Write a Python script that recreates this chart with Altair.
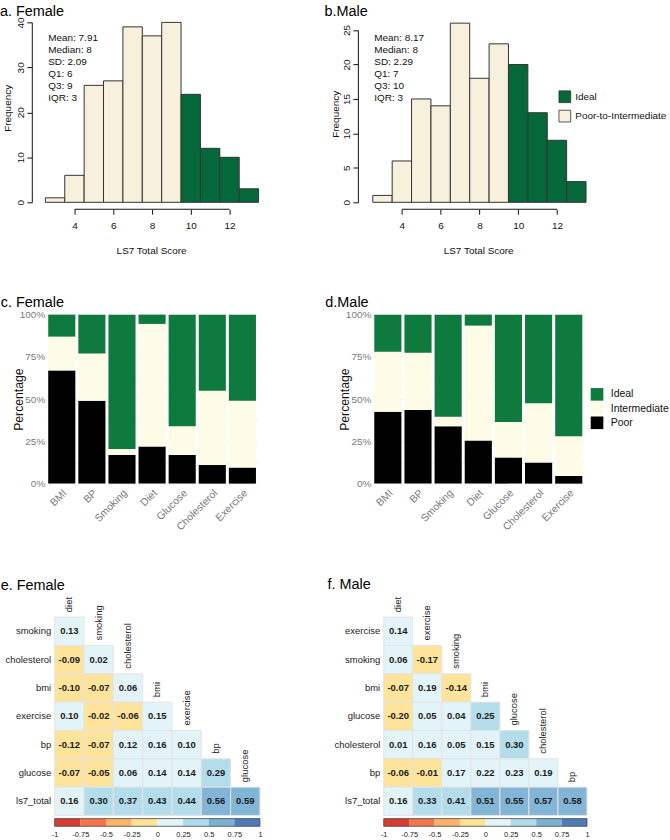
import altair as alt
import pandas as pd

FONT = "Liberation Sans"
INK = "#111111"
GREY = "#7A7A7A"

# ---------------- Life's Simple 7 total score histograms ----------------
scores = [3, 4, 5, 6, 7, 8, 9, 10, 11, 12, 13]
female_counts = [1, 6, 26, 27, 39, 37, 40, 24, 12, 10, 3]
male_counts = [1, 6, 15, 14, 26, 18, 23, 20, 13, 9, 3]
female_stats = ["Mean: 7.91", "Median: 8", "SD: 2.09", "Q1: 6", "Q3: 9", "IQR: 3"]
male_stats = ["Mean: 8.17", "Median: 8", "SD: 2.29", "Q1: 7", "Q3: 10", "IQR: 3"]
hist_x_ticks = [4, 6, 8, 10, 12]
female_y_ticks = [0, 10, 20, 30, 40]
male_y_ticks = [0, 5, 10, 15, 20, 25]
hist_groups = ["Ideal", "Poor-to-Intermediate"]
hist_colors = ["#05683A", "#F6F0DD"]
ideal_cutoff = 10

# ---------------- component status (percent of participants) ----------------
metrics = ["BMI", "BP", "Smoking", "Diet", "Glucose", "Cholesterol", "Exercise"]
levels = ["Ideal", "Intermediate", "Poor"]
level_colors = ["#0F7A3D", "#FEFCE6", "#000000"]
stack_order = ["Poor", "Intermediate", "Ideal"]
female_poor = [67, 49, 17, 22, 17, 11, 9.5]
female_inter = [20, 28, 3.5, 72.5, 17, 44, 39.5]
female_ideal = [13, 23, 79.5, 5.5, 66, 45, 51]
male_poor = [42.5, 43.5, 34, 25.5, 15.5, 12.5, 4.5]
male_inter = [35.5, 34, 5.5, 68, 21, 35, 23.5]
male_ideal = [22, 22.5, 60.5, 6.5, 63.5, 52.5, 72]
pct_ticks = [0, 12.5, 25, 37.5, 50, 62.5, 75, 87.5, 100]

# ---------------- correlation matrices (lower triangle) ----------------
female_cols = ["diet", "smoking", "cholesterol", "bmi", "exercise", "bp", "glucose"]
female_rows = ["smoking", "cholesterol", "bmi", "exercise", "bp", "glucose", "ls7_total"]
female_r = [
    [0.13],
    [-0.09, 0.02],
    [-0.10, -0.07, 0.06],
    [0.10, -0.02, -0.06, 0.15],
    [-0.12, -0.07, 0.12, 0.16, 0.10],
    [-0.07, -0.05, 0.06, 0.14, 0.14, 0.29],
    [0.16, 0.30, 0.37, 0.43, 0.44, 0.56, 0.59],
]
male_cols = ["diet", "exercise", "smoking", "bmi", "glucose", "cholesterol", "bp"]
male_rows = ["exercise", "smoking", "bmi", "glucose", "cholesterol", "bp", "ls7_total"]
male_r = [
    [0.14],
    [0.06, -0.17],
    [-0.07, 0.19, -0.14],
    [-0.20, 0.05, 0.04, 0.25],
    [0.01, 0.16, 0.05, 0.15, 0.30],
    [-0.06, -0.01, 0.17, 0.22, 0.23, 0.19],
    [0.16, 0.33, 0.41, 0.51, 0.55, 0.57, 0.58],
]
cbar_edges = [-1, -0.75, -0.5, -0.25, 0, 0.25, 0.5, 0.75, 1]
cbar_colors = ["#D73027", "#F46D43", "#FDAE61", "#FEE090",
               "#E0F3F8", "#ABD9E9", "#74ADD1", "#4575B4"]

ONE = pd.DataFrame({"k": [0]})

# Each row band: total height, and where its plot area starts/ends inside the band.
ROW1_H, HIST_BOTTOM = 280, 201
ROW2_H, STACK_TOP, STACK_BOTTOM = 280, 34, 204
ROW3_H, CORR_TOP, CORR_BOTTOM = 260, 58.3, 257.8
CBAR_H = 7.7


def spacer(w, h):
    return (
        alt.Chart(ONE)
        .mark_rect(opacity=0)
        .encode(x=alt.value(0), x2=alt.value(0), y=alt.value(0), y2=alt.value(0))
        .properties(width=w, height=h)
    )


def label(text, dx, dy, size=14.5):
    return (
        alt.Chart(ONE)
        .mark_text(align="left", baseline="alphabetic", fontSize=size, font=FONT, color="#000")
        .encode(x=alt.value(dx), y=alt.value(dy), text=alt.value(text))
    )


HIST_X_AXIS = alt.Axis(
    values=hist_x_ticks, offset=7, domain=False, grid=False,
    tickSize=5, tickColor=INK, labelPadding=6, labelFontSize=10,
    labelColor=INK, labelFlush=False, labelOverlap=False,
    title="LS7 Total Score", titleFontSize=10, titleFontWeight="normal",
    titleColor=INK, titleY=42, titleBaseline="middle",
)


def histogram(counts, y_ticks, stats, title, title_dx, width, x_domain, y_top,
              ytitle_x, ytitle_y, legend):
    df = pd.DataFrame({"score": scores, "count": counts})
    df["group"] = [hist_groups[0] if s >= ideal_cutoff else hist_groups[1] for s in scores]
    xs = alt.Scale(domain=x_domain, nice=False, zero=False)
    bars = (
        alt.Chart(df)
        .transform_calculate(lo="datum.score - 0.5", hi="datum.score + 0.5")
        .mark_bar(stroke="#333333", strokeWidth=1)
        .encode(
            x=alt.X("lo:Q", scale=xs, axis=HIST_X_AXIS),
            x2="hi:Q",
            y=alt.Y(
                "count:Q",
                scale=alt.Scale(domain=[0, y_ticks[-1]], range=[HIST_BOTTOM, y_top], nice=False),
                axis=alt.Axis(
                    values=y_ticks, grid=False, domainColor=INK, tickColor=INK,
                    tickSize=5, labelAngle=270, labelAlign="center",
                    labelBaseline="middle", labelPadding=6.5, labelFontSize=10,
                    labelColor=INK, labelOverlap=False, labelFlush=False,
                    title="Frequency", titleFontSize=10, titleFontWeight="normal",
                    titleColor=INK, titleAngle=270, titleAlign="center",
                    titleBaseline="middle", titleX=ytitle_x, titleY=ytitle_y,
                ),
            ),
            y2=alt.datum(0),
            color=alt.Color(
                "group:N",
                scale=alt.Scale(domain=hist_groups, range=hist_colors),
                legend=legend,
            ),
        )
    )
    # R-style x axis line, running from the first to the last tick only
    axis_line = (
        alt.Chart(pd.DataFrame({"lo": [hist_x_ticks[0]], "hi": [hist_x_ticks[-1]]}))
        .mark_rule(color=INK, strokeWidth=1)
        .encode(x=alt.X("lo:Q", scale=xs, axis=HIST_X_AXIS), x2="hi:Q",
                y=alt.value(HIST_BOTTOM + 7))
    )
    stats_text = (
        alt.Chart(ONE)
        .mark_text(align="left", baseline="alphabetic", fontSize=10, lineHeight=12.2,
                   font=FONT, color=INK)
        .encode(x=alt.value(16.5), y=alt.value(38.6), text=alt.value(stats))
    )
    return alt.layer(bars, axis_line, stats_text, label(title, title_dx, 13.3)).properties(
        width=width, height=HIST_BOTTOM
    )


def stacked(poor, inter, ideal, title, title_dx, width, legend):
    recs = []
    for i, m in enumerate(metrics):
        for lvl, vals in (("Poor", poor), ("Intermediate", inter), ("Ideal", ideal)):
            recs.append({"metric": m, "level": lvl, "pct": vals[i]})
    df = pd.DataFrame(recs)
    bars = (
        alt.Chart(df)
        .transform_calculate(rank=f"indexof({stack_order}, datum.level)")
        .mark_bar()
        .encode(
            x=alt.X(
                "metric:N",
                scale=alt.Scale(domain=metrics, paddingInner=0.1, paddingOuter=0.05),
                axis=alt.Axis(
                    labelAngle=315, labelAlign="right", labelBaseline="top",
                    domain=False, ticks=False, tickSize=0, labelPadding=4,
                    labelFontSize=10.5, labelColor=GREY, grid=False, title=None,
                ),
            ),
            y=alt.Y(
                "pct:Q",
                stack="zero",
                scale=alt.Scale(domain=[0, 100], range=[STACK_BOTTOM, STACK_TOP], nice=False),
                axis=alt.Axis(
                    values=pct_ticks,
                    labelExpr="datum.value % 25 === 0 ? datum.value + '%' : ''",
                    grid=True, gridColor="#EDEDED", gridWidth=0.8, domain=False,
                    ticks=False, tickSize=0, labelPadding=2, labelFontSize=10,
                    labelColor=GREY, labelOverlap=False, labelFlush=False,
                    title="Percentage", titleFontSize=12.3, titleFontWeight="normal",
                    titleColor=INK, titleAngle=270, titleAlign="center",
                    titleBaseline="middle", titleX=-28.7, titleY=119,
                ),
            ),
            color=alt.Color(
                "level:N", scale=alt.Scale(domain=levels, range=level_colors), legend=legend
            ),
            order=alt.Order("rank:Q", sort="ascending"),
        )
    )
    return alt.layer(bars, label(title, title_dx, 26.5)).properties(
        width=width, height=STACK_BOTTOM
    )


def corr(rows, cols, vals, title, title_dx, title_dy, width):
    recs = []
    for i, r in enumerate(rows):
        for j in range(i + 1):
            v = vals[i][j]
            recs.append({"row": r, "col": cols[j], "r": v, "txt": f"{v:.2f}"})
    df = pd.DataFrame(recs)
    xs = alt.Scale(domain=cols, paddingInner=0, paddingOuter=0)
    ys = alt.Scale(domain=rows, range=[CORR_TOP, CORR_BOTTOM], paddingInner=0, paddingOuter=0)
    row_axis = alt.Axis(domain=False, ticks=False, tickSize=0, labelPadding=4,
                        labelFontSize=9.5, labelColor="#222", title=None, grid=False)
    cells = (
        alt.Chart(df)
        .mark_rect(stroke="#E4E4E4", strokeWidth=1, fillOpacity=0.9)
        .encode(
            x=alt.X("col:N", scale=xs, axis=None),
            y=alt.Y("row:N", scale=ys, axis=row_axis),
            color=alt.Color(
                "r:Q",
                scale=alt.Scale(type="threshold", domain=cbar_edges[1:-1], range=cbar_colors),
                legend=None,
            ),
        )
    )
    values = (
        alt.Chart(df)
        .mark_text(fontSize=9.5, fontWeight="bold", font=FONT, color="#1A1A1A")
        .encode(x=alt.X("col:N", scale=xs, axis=None),
                y=alt.Y("row:N", scale=ys, axis=row_axis), text="txt:N")
    )
    heads = (
        alt.Chart(pd.DataFrame({"col": cols, "row": rows}))
        .mark_text(angle=270, align="left", baseline="middle", dx=5, fontSize=9.5,
                   font=FONT, color="#222")
        .encode(
            x=alt.X("col:N", scale=xs, axis=None),
            y=alt.Y("row:N", scale=ys, axis=row_axis, bandPosition=0),
            text="col:N",
        )
    )
    return alt.layer(cells, values, heads, label(title, title_dx, title_dy)).properties(
        width=width, height=CORR_BOTTOM
    )


CBAR_AXIS = alt.Axis(
    values=cbar_edges,
    labelExpr="datum.value < 0 ? '-' + toString(-datum.value) : toString(datum.value)",
    domain=False, ticks=False, tickSize=0, labelPadding=4,
    labelFontSize=7.5, labelColor="#222", labelFlush=False,
    labelOverlap=False, grid=False, title=None,
)


def colorbar(width):
    seg_df = pd.DataFrame({"lo": cbar_edges[:-1], "hi": cbar_edges[1:], "fill": cbar_colors})
    xs = alt.Scale(domain=[cbar_edges[0], cbar_edges[-1]], nice=False, zero=False)
    segs = (
        alt.Chart(seg_df)
        .mark_rect(opacity=0.95)
        .encode(
            x=alt.X("lo:Q", scale=xs, axis=CBAR_AXIS),
            x2="hi:Q",
            y=alt.value(0),
            y2=alt.value(CBAR_H),
            color=alt.Color("fill:N", scale=None),
        )
    )
    frame = (
        alt.Chart(pd.DataFrame({"lo": [cbar_edges[0]], "hi": [cbar_edges[-1]]}))
        .mark_rect(fillOpacity=0, stroke="#444", strokeWidth=0.8)
        .encode(x=alt.X("lo:Q", scale=xs, axis=CBAR_AXIS), x2="hi:Q",
                y=alt.value(0), y2=alt.value(CBAR_H))
    )
    return alt.layer(segs, frame).properties(width=width, height=CBAR_H)


def row(*charts):
    return alt.hconcat(*charts, spacing=0, bounds="flush").resolve_scale(color="independent")


hist_a = histogram(female_counts, female_y_ticks, female_stats, "a. Female", -32, 240,
                   [1.8, 14.108], 20, -24, 106, None)
hist_b = histogram(
    male_counts, male_y_ticks, male_stats, "b.Male", -33.5, 242, [1.73, 14.14],
    27.7, -22.5, 112,
    alt.Legend(orient="none", legendX=201.7, legendY=88.3, title=None,
               symbolType="square", symbolSize=140, symbolStrokeColor="#333",
               symbolStrokeWidth=0.8, labelFontSize=10, labelFont=FONT,
               labelColor=INK, labelOffset=4, rowPadding=2.5, padding=0),
)

stack_c = stacked(female_poor, female_inter, female_ideal, "c. Female", -46.2, 212, None)
stack_d = stacked(
    male_poor, male_inter, male_ideal, "d.Male", -47.7, 212.3,
    alt.Legend(orient="none", legendX=219.1, legendY=107.7, title=None,
               symbolType="square", symbolSize=161, symbolStrokeWidth=0,
               labelFontSize=10.5, labelFont=FONT, labelColor=INK,
               labelOffset=7.3, rowPadding=1.3, padding=0),
)

corr_e = corr(female_rows, female_cols, female_r, "e. Female", -54.3, 30.7, 206.5)
corr_f = corr(male_rows, male_cols, male_r, "f. Male", -56.5, 30.0, 204.5)

chart = (
    alt.vconcat(
        row(spacer(32, ROW1_H), hist_a, spacer(88, 1), hist_b),
        row(spacer(46.2, ROW2_H), stack_c, spacer(116, 1), stack_d),
        row(spacer(54.3, ROW3_H), corr_e, spacer(123.7, 1), corr_f),
        row(spacer(54.3, CBAR_H), colorbar(206.5), spacer(123.7, 1), colorbar(204.5)),
        spacing=0,
    )
    .resolve_scale(color="independent")
    .properties(padding=0, background="white")
    .configure(font=FONT)
    .configure_view(stroke=None)
)

chart.save("out.html", embed_options={"renderer": "svg", "actions": False})
